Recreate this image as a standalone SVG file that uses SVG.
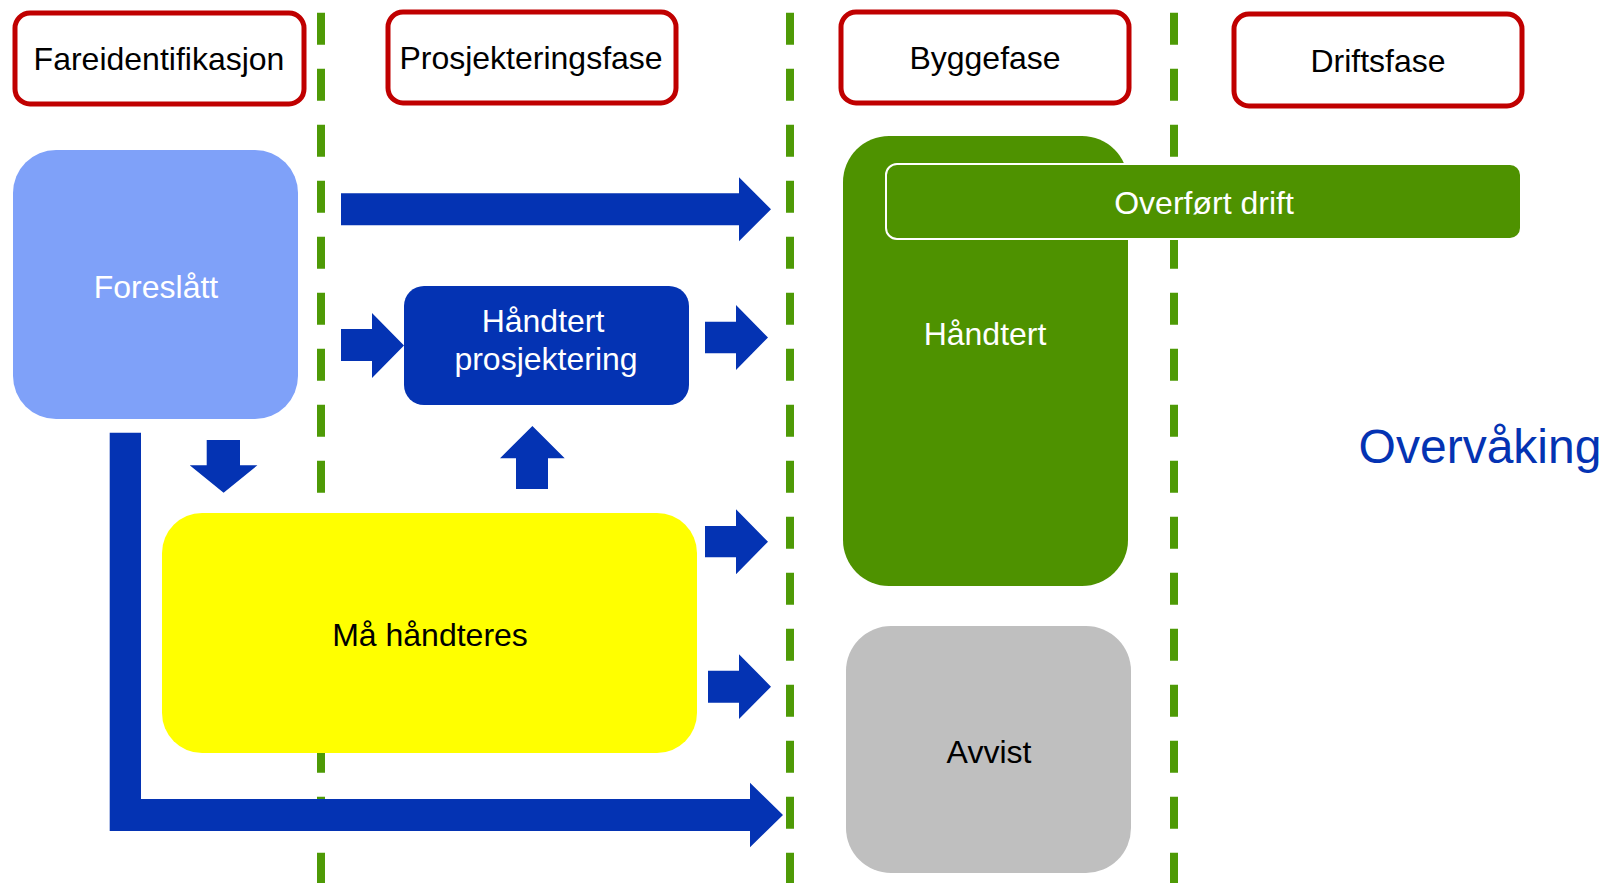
<svg xmlns="http://www.w3.org/2000/svg" width="1607" height="883" viewBox="0 0 1607 883">
<style>
text{font-family:"Liberation Sans",Arial,sans-serif;font-size:32px;text-anchor:middle}
.hdr{fill:#ffffff;stroke:#C00000;stroke-width:5}
.dash{stroke:#4E9A06;stroke-width:8;stroke-dasharray:32 24;fill:none}
.arr{fill:#0433B3}
.w{fill:#ffffff}
.k{fill:#000000}
</style>
<rect width="1607" height="883" fill="#ffffff"/>
<g id="dividers">
<line class="dash" x1="321" y1="12.7" x2="321" y2="883"/>
<line class="dash" x1="790" y1="12.7" x2="790" y2="883"/>
<line class="dash" x1="1174" y1="12.7" x2="1174" y2="883"/>
</g>
<g id="hdr-fare"><rect class="hdr" x="15" y="13" width="289" height="91" rx="15"/><text class="k" x="159" y="70">Fareidentifikasjon</text></g>
<g id="hdr-prosj"><rect class="hdr" x="388" y="12" width="288" height="91" rx="15"/><text class="k" x="531" y="69">Prosjekteringsfase</text></g>
<g id="hdr-bygg"><rect class="hdr" x="841" y="12" width="288" height="91" rx="15"/><text class="k" x="985" y="69">Byggefase</text></g>
<g id="hdr-drift"><rect class="hdr" x="1234" y="14" width="288" height="92" rx="15"/><text class="k" x="1378" y="72">Driftsfase</text></g>
<g id="foreslatt"><rect x="13" y="150" width="285" height="269" rx="43" fill="#7FA1F9"/><text class="w" x="156" y="298">Foreslått</text></g>
<g id="handtert-prosj"><rect x="404" y="286" width="285" height="119" rx="20" fill="#0433B3"/><text class="w" x="543" y="332">Håndtert</text><text class="w" x="546" y="370">prosjektering</text></g>
<g id="ma-handteres"><rect x="162" y="513" width="535" height="240" rx="40" fill="#FFFF00"/><text class="k" x="430" y="646">Må håndteres</text></g>
<g id="handtert"><rect x="843" y="136" width="285" height="450" rx="46" fill="#4E9200"/><text class="w" x="985" y="345">Håndtert</text></g>
<g id="overfort-drift"><rect x="886" y="164" width="635" height="75" rx="11" fill="#4E9200" stroke="#ffffff" stroke-width="2"/><text class="w" x="1204" y="214">Overført drift</text></g>
<g id="avvist"><rect x="846" y="626" width="285" height="247" rx="45" fill="#BFBFBF"/><text class="k" x="989" y="763">Avvist</text></g>
<g id="overvaking"><text x="1480" y="463" style="font-size:48px;fill:#0433B3">Overvåking</text></g>
<g id="connectors">
<polygon class="arr" points="341,193.3 739,193.3 739,177.3 771,209.3 739,241.3 739,225.3 341,225.3"/>
<polygon class="arr" points="341,329 372,329 372,313 404,345.5 372,378 372,361 341,361"/>
<polygon class="arr" points="705,321.7 736,321.7 736,305 768,337.5 736,370 736,353.3 705,353.3"/>
<polygon class="arr" points="206.7,440 240,440 240,465.3 257.4,465.3 223.6,492.7 189.7,465.3 206.7,465.3"/>
<polygon class="arr" points="516,489 548,489 548,458.3 564.7,458.3 532.4,426 500,458.3 516,458.3"/>
<polygon class="arr" points="705,526 736,526 736,509.3 768,541.7 736,574.3 736,557.3 705,557.3"/>
<polygon class="arr" points="708,670.7 739,670.7 739,654.3 771,686.7 739,719 739,702.7 708,702.7"/>
<polygon class="arr" points="109.7,432.7 141,432.7 141,799 750,799 750,782.7 783,815 750,847.3 750,831 109.7,831"/>
</g>
</svg>
